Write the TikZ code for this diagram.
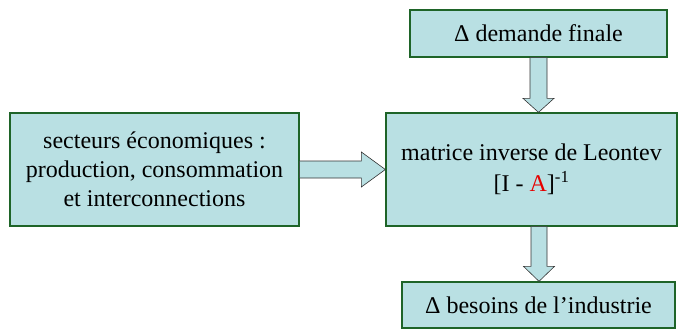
\documentclass[tikz,border=0pt]{standalone}
\usepackage{fontspec}
\setmainfont{Liberation Serif}
\usetikzlibrary{calc}
\definecolor{boxfill}{RGB}{185,224,227}
\definecolor{boxdraw}{RGB}{30,100,40}
\definecolor{txtred}{RGB}{230,0,0}
\tikzset{
  box/.style={draw=boxdraw, line width=1.3pt, fill=boxfill, inner sep=0pt, align=center,
    font=\fontsize{24}{29}\selectfont},
  blockarrow/.style={draw=black!80, line width=0.6pt, fill=boxfill, line join=miter}
}
\begin{document}
\begin{tikzpicture}[x=1pt,y=-1pt]
\useasboundingbox (0,0) rectangle (680,330);
\node[box, minimum width=257pt, minimum height=47pt] (dem) at (538.5,33.5) {Δ demande finale};
\node[box, minimum width=291pt, minimum height=113pt] (mat) at (531.5,169.5) {matrice inverse de Leontev\\[2pt][I - \textcolor{txtred}{A}]\textsuperscript{-1}};
\node[box, minimum width=273pt, minimum height=46pt] (bes) at (538.5,305) {Δ besoins de l’industrie};
\node[box, minimum width=289pt, minimum height=113pt] (sec) at (154.5,169.5) {secteurs économiques :\\production, consommation\\et interconnections};
% vertical arrow dem -> mat
\draw[blockarrow] let \p1=(dem.south), \p2=(mat.north) in
  (538.5-8.5,\y1) -- (538.5+8.5,\y1) -- (538.5+8.5,\y2+14) -- (538.5+15.5,\y2+14)
  -- (538.5,\y2) -- (538.5-15.5,\y2+14) -- (538.5-8.5,\y2+14) -- cycle;
% vertical arrow mat -> bes
\draw[blockarrow] let \p1=(mat.south), \p2=(bes.north) in
  (539-8,\y1) -- (539+8,\y1) -- (539+8,\y2+15) -- (539+15.5,\y2+15)
  -- (539,\y2) -- (539-15.5,\y2+15) -- (539-8,\y2+15) -- cycle;
% horizontal arrow sec -> mat
\draw[blockarrow] let \p1=(sec.east), \p2=(mat.west) in
  (\x1,161) -- (\x2-24,161) -- (\x2-24,152) -- (\x2,169.5) -- (\x2-24,187)
  -- (\x2-24,178) -- (\x1,178) -- cycle;
\end{tikzpicture}
\end{document}
